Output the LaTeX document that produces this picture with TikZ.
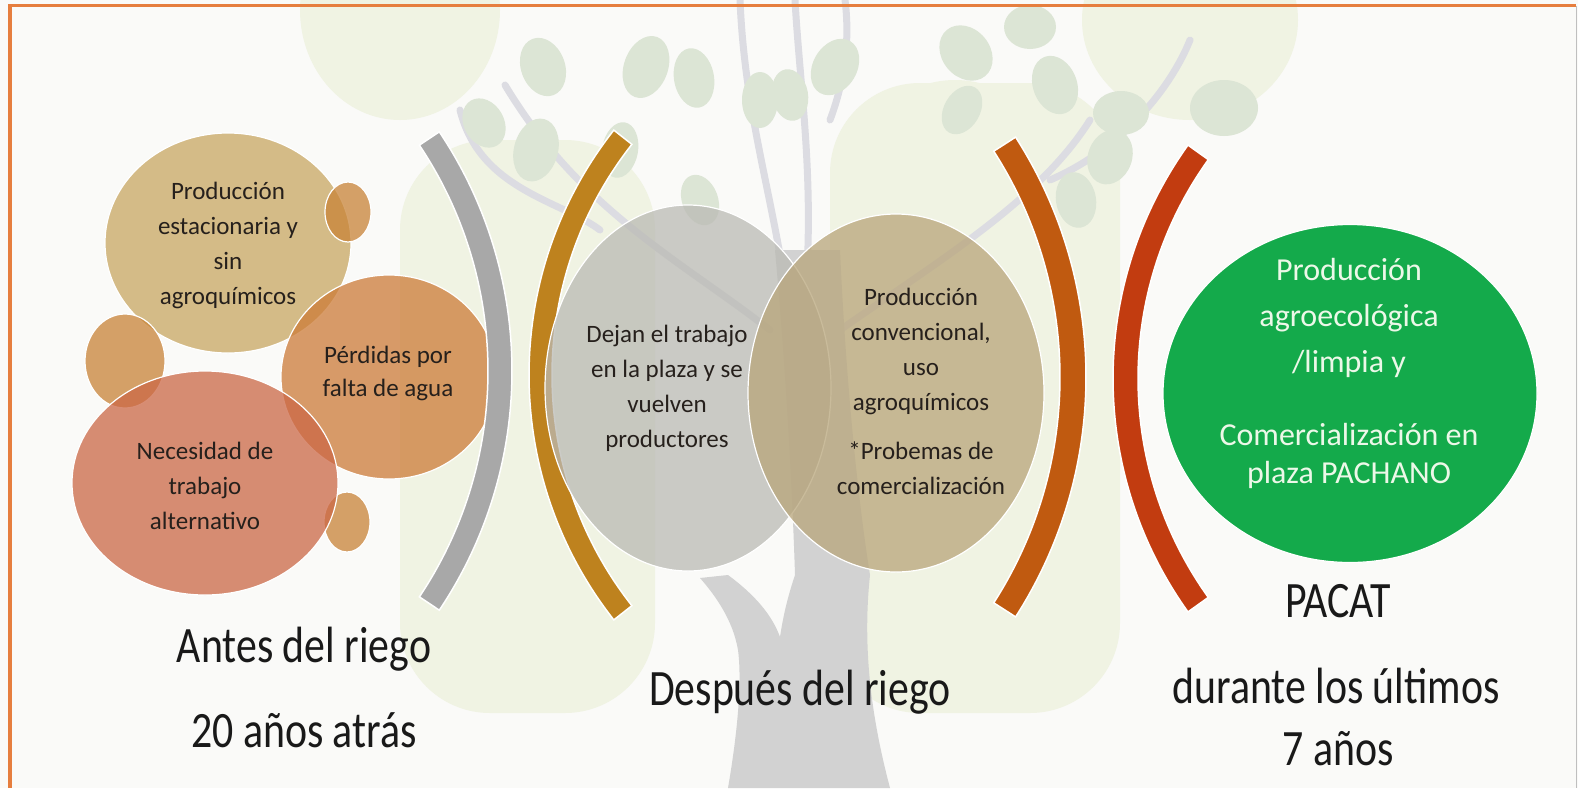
\documentclass[tikz,border=0pt]{standalone}
\usepackage{fontspec}
\setmainfont{Carlito}
\usetikzlibrary{shapes.geometric,calc}
\definecolor{bgc}{RGB}{250,250,248}
\definecolor{paleg}{RGB}{240,243,227}
\definecolor{leafc}{RGB}{220,229,213}
\definecolor{branchc}{RGB}{220,220,226}
\definecolor{trunkc}{RGB}{210,210,210}
\definecolor{bordc}{RGB}{230,126,62}
\definecolor{cA}{RGB}{200,166,98}
\definecolor{cS}{RGB}{200,131,55}
\definecolor{cB}{RGB}{204,123,56}
\definecolor{cC}{RGB}{203,104,70}
\definecolor{cD}{RGB}{186,186,180}
\definecolor{cE}{RGB}{184,165,122}
\definecolor{cG}{RGB}{20,170,75}
\definecolor{gtxt}{RGB}{236,248,232}
\definecolor{txtc}{RGB}{38,32,28}
\definecolor{arcgray}{RGB}{168,168,168}
\definecolor{arcgold}{RGB}{190,130,30}
\definecolor{arcorange}{RGB}{192,90,16}
\definecolor{arcred}{RGB}{194,60,16}
\newcommand{\myband}[7]{%
  \filldraw[draw=white, line width=1.5pt, fill=#1]
    (#2,#3) ++(#6:#4) arc[start angle=#6, end angle=#7, radius=#4]
    -- ($(#2,#3)+(#7:#5)$) arc[start angle=#7, end angle=#6, radius=#5] -- cycle;}
\tikzset{
  blob/.style={ellipse, draw=white, line width=1.2pt, fill opacity=0.75, inner sep=0pt},
  txt/.style={align=center, text=txtc, font=\fontsize{25}{35}\selectfont, inner sep=0pt},
  lbl/.style={font=\fontsize{51}{60}\selectfont, text=black!90, inner sep=0pt, anchor=base},
  leaf/.style={fill=leafc},
  branch/.style={draw=branchc, line width=7pt, line cap=round}
}
\begin{document}
\begin{tikzpicture}[x=1pt,y=1pt]
\useasboundingbox (0,0) rectangle (1578,-788);
\fill[bgc] (0,0) rectangle (1578,-788);
% ---- faint tree background ----
\fill[paleg] (400,-10) ellipse [x radius=100, y radius=110];
\fill[paleg] (1190,-20) ellipse [x radius=108, y radius=100];
\fill[paleg, rounded corners=90pt] (400,-140) rectangle (655,-713);
\fill[paleg, rounded corners=90pt] (830,-83) rectangle (1120,-713);
\fill[paleg] (955,-170) ellipse [x radius=95, y radius=90];
% branches
\draw[branch] (790,-320) .. controls (775,-200) and (745,-120) .. (740,0);
\draw[branch] (805,-300) .. controls (815,-180) and (800,-90) .. (795,0);
\draw[branch] (770,-330) .. controls (680,-260) and (580,-210) .. (505,-85);
\draw[branch] (600,-230) .. controls (560,-200) and (480,-190) .. (460,-110);
\draw[branch] (840,-330) .. controls (940,-260) and (1040,-200) .. (1090,-120);
\draw[branch] (1050,-180) .. controls (1120,-150) and (1170,-90) .. (1190,-40);
\draw[branch] (830,-120) .. controls (845,-80) and (850,-40) .. (845,0);
% leaves
\foreach \x/\y/\a/\r/\s in {543/-67/20/22/30, 646/-67/-20/22/32, 694/-78/10/20/30, 484/-123/30/20/26,
    536/-150/-15/22/32, 760/-100/0/18/28, 835/-67/-30/22/30, 790/-95/10/18/26, 966/-53/40/24/30,
    1030/-27/0/26/22, 1055/-85/20/22/30, 1121/-113/0/28/22, 1224/-108/0/34/28, 1110/-157/-20/22/28,
    1076/-200/10/20/28, 962/-110/-30/18/26, 620/-150/-10/18/28, 700/-200/20/18/26}
  {\fill[leaf, shift={(\x,\y)}, rotate=\a] (0,0) ellipse [x radius=\r, y radius=\s];}
% trunk
\fill[trunkc] (728,-788) .. controls (738,-730) and (742,-680) .. (738,-650)
  .. controls (733,-620) and (715,-595) .. (700,-578) -- (728,-575)
  .. controls (755,-595) and (772,-615) .. (780,-637)
  .. controls (784,-610) and (790,-590) .. (795,-575)
  .. controls (792,-480) and (785,-360) .. (775,-250) -- (840,-250)
  .. controls (845,-360) and (855,-480) .. (870,-575)
  .. controls (862,-650) and (872,-720) .. (890,-788) -- cycle;
% ---- border ----
\fill[bordc] (7.5,-3.5) rectangle (1576,-6.8);
\fill[bordc] (7.5,-3.5) rectangle (12,-788);
\draw[black!25, line width=1pt] (1576.5,-6) -- (1576.5,-788);
% ---- left cluster ----
\node[blob, fill=cA, minimum width=246pt, minimum height=220pt] (a) at (228,-243) {};
\node[blob, fill=cS, minimum width=46pt, minimum height=60pt] (s1) at (348,-212) {};
\node[blob, fill=cS, minimum width=80pt, minimum height=94pt] (s2) at (125,-361) {};
\node[blob, fill=cB, minimum width=216pt, minimum height=204pt] (b) at (389,-377) {};
\node[blob, fill=cS, minimum width=46pt, minimum height=60pt] (s3) at (347,-522) {};
\node[blob, fill=cC, minimum width=266pt, minimum height=224pt] (c) at (205,-483) {};
% ---- arcs ----
\myband{arcgray}{82}{-371}{430}{406}{33.8}{-33.8}
\myband{arcgold}{925}{-375}{396}{373}{141.8}{218.2}
\myband{arcorange}{642}{-377}{444}{418}{32.7}{-32.7}
\myband{arcred}{1514}{-378.5}{401}{376}{144.4}{215.6}
% ---- middle pair ----
\node[blob, fill=cD, minimum width=286pt, minimum height=366pt] (d) at (688,-388) {};
\node[blob, fill=cE, minimum width=296pt, minimum height=358pt] (e) at (896,-393) {};
% ---- green ----
\node[ellipse, fill=cG, draw=white, line width=1.2pt, inner sep=0pt,
      minimum width=374pt, minimum height=338pt] (g) at (1350,-393.5) {};
% ---- texts ----
\node[txt] (ta) at (228,-245) {Producción\\estacionaria y\\sin\\agroquímicos};
\node[txt, font=\fontsize{25}{33}\selectfont] (tb) at (388,-373) {Pérdidas por\\falta de agua};
\node[txt] (tc) at (205,-486) {Necesidad de\\trabajo\\alternativo};
\node[txt] (td) at (667,-388) {Dejan el trabajo\\en la plaza y se\\vuelven\\productores};
\node[txt] (te) at (921,-391) {Producción\\convencional,\\uso\\agroquímicos\\[14pt]*Probemas de\\comercialización};
\node[txt, text=gtxt, font=\fontsize{32}{38}\selectfont] (tg) at (1349,-373.5)
  {Producción\\[8pt]agroecológica\\[8pt]/limpia y\\[35pt]Comercialización en\\plaza PACHANO};
% ---- labels ----
\node[lbl] (l1) at (304,-662) {\scalebox{0.82}[1]{Antes del riego}};
\node[lbl] (l2) at (304,-747) {\scalebox{0.82}[1]{20 años atrás}};
\node[lbl] (l3) at (800,-705) {\scalebox{0.82}[1]{Después del riego}};
\node[lbl] (l4) at (1338,-617) {\scalebox{0.82}[1]{PACAT}};
\node[lbl] (l5) at (1336,-703) {\scalebox{0.82}[1]{durante los últimos}};
\node[lbl] (l6) at (1338,-765) {\scalebox{0.82}[1]{7 años}};
\end{tikzpicture}
\end{document}
